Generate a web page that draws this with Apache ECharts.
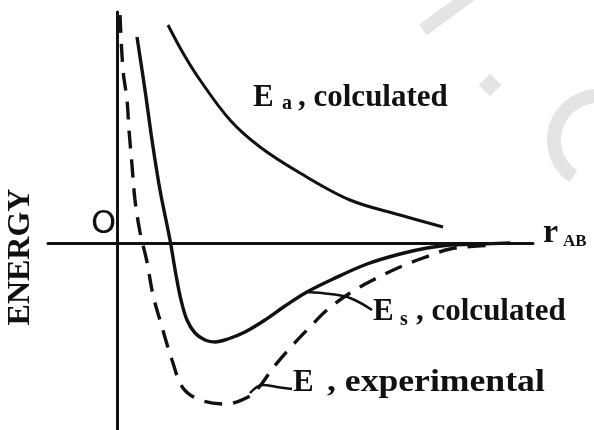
<!DOCTYPE html>
<html>
<head>
<meta charset="utf-8">
<script src="https://cdn.jsdelivr.net/npm/echarts@6/dist/echarts.min.js"></script>
<style>html,body{margin:0;padding:0;background:#fff}#c{width:594px;height:430px}</style>
</head>
<body>
<div id="c"></div>
<script>
// r_AB (arbitrary units) and energy (arbitrary units)
const eaR = [5.1, 6.6, 8.3, 11.3, 14.3, 18.3, 23.3, 28.3, 32.6];
const eaE = [21.8, 19.0, 16.3, 12.3, 9.6, 7.0, 4.3, 2.8, 1.6];

const esR = [2.0, 2.8, 3.5, 4.3, 5.3, 5.9, 6.4, 7.0, 7.8, 8.8, 9.8, 11.1, 12.8, 14.8, 16.8, 19.0, 21.6, 25.0, 28.3, 31.0, 33.3, 36.3, 39.3];
const esE = [20.6, 15.3, 10.3, 5.3, 0.3, -3.2, -5.7, -7.7, -9.0, -9.7, -9.9, -9.6, -8.9, -7.7, -6.3, -4.9, -3.6, -2.1, -1.1, -0.5, -0.2, -0.1, 0.0];

const exR = [0.3, 0.6, 1.0, 1.2, 1.5, 1.8, 2.3, 3.0, 3.6, 4.5, 5.5, 6.6, 8.3, 10.8, 13.3, 14.3, 15.6, 17.3, 19.3, 21.0, 23.3, 25.6, 28.3, 30.6, 33.3, 36.0, 37.8];
const exE = [22.8, 17.3, 14.3, 11.3, 7.8, 4.3, 1.1, -1.9, -5.2, -8.4, -11.7, -14.5, -15.7, -16.1, -15.3, -14.3, -12.5, -10.5, -8.4, -6.7, -5.0, -3.7, -2.4, -1.5, -0.6, -0.3, -0.2];

// leader lines from labels to curves
const esLeadR = [19.0, 21.3, 23.3, 25.5];
const esLeadE = [-4.9, -5.1, -5.5, -6.7];
const exLeadR = [13.3, 14.6, 16.0, 17.5];
const exLeadE = [-15.0, -14.2, -14.4, -14.6];

const zip = (a, b) => a.map((v, i) => [v, b[i]]);
const INK = '#111';
const serifB = (s) => 'bold ' + s + 'px "Liberation Serif", "Times New Roman", serif';

const chart = echarts.init(document.getElementById('c'), null, {renderer: 'canvas'});

function txt(text, x, y, size, extra) {
  return Object.assign({
    type: 'text', x: x, y: y, z: 10,
    style: {text: text, font: serifB(size), fill: INK, textAlign: 'left', textVerticalAlign: 'middle'}
  }, extra || {});
}

chart.setOption({
  animation: false,
  backgroundColor: '#fff',
  grid: {left: 48, right: 61, top: 12, bottom: 0, containLabel: false},
  xAxis: {
    type: 'value', min: -6.9, max: 41.6,
    axisLine: {show: true, onZero: true, lineStyle: {color: INK, width: 3}},
    axisTick: {show: false}, axisLabel: {show: false}, splitLine: {show: false}
  },
  yAxis: {
    type: 'value', min: -18.7, max: 23.1,
    axisLine: {show: true, onZero: true, lineStyle: {color: INK, width: 3}},
    axisTick: {show: false}, axisLabel: {show: false}, splitLine: {show: false}
  },
  series: [
    {type: 'line', name: 'Ea', data: zip(eaR, eaE), smooth: 0.35, showSymbol: false, symbol: 'none',
     lineStyle: {color: INK, width: 3}},
    {type: 'line', name: 'Es', data: zip(esR, esE), smooth: 0.35, showSymbol: false, symbol: 'none',
     lineStyle: {color: INK, width: 3.4}},
    {type: 'line', name: 'Eexp', data: zip(exR, exE), smooth: 0.35, showSymbol: false, symbol: 'none',
     lineStyle: {color: INK, width: 3.4, type: [18, 11]}},
    {type: 'line', name: 'EsLead', data: zip(esLeadR, esLeadE), smooth: 0.4, showSymbol: false, symbol: 'none',
     lineStyle: {color: INK, width: 2.5}},
    {type: 'line', name: 'ExLead', data: zip(exLeadR, exLeadE), smooth: 0.4, showSymbol: false, symbol: 'none',
     lineStyle: {color: INK, width: 2.5}}
  ],
  graphic: [
    // faint watermark shapes
    {type: 'line', z: 0, shape: {x1: 423, y1: 30, x2: 472, y2: -6}, style: {stroke: '#e4e4e4', lineWidth: 13}},
    {type: 'rect', z: 0, x: 490, y: 85, rotation: Math.PI / 4, shape: {x: -8, y: -8, width: 16, height: 16}, style: {fill: '#e4e4e4'}},
    {type: 'arc', z: 0, shape: {cx: 598, cy: 140, r: 44, startAngle: Math.PI * 0.69, endAngle: Math.PI * 1.56, clockwise: true},
     style: {stroke: '#e4e4e4', lineWidth: 14, fill: null}},
    // labels
    txt('ENERGY', 21, 257, 32, {rotation: Math.PI / 2, style: {text: 'ENERGY', font: serifB(32), fill: INK, textAlign: 'center', textVerticalAlign: 'middle'}}),
    {type: 'text', x: 103.5, y: 225, z: 10, style: {text: 'O', font: '32px "DejaVu Sans", sans-serif', fill: INK, textAlign: 'center', textVerticalAlign: 'middle'}},
    txt('E', 253, 97.5, 31),
    txt('a', 282, 104, 20),
    txt(', colculated', 298, 97.5, 31),
    txt('E', 373, 311.5, 31),
    txt('s', 400, 320, 20),
    txt(', colculated', 416, 311.5, 31),
    txt('E', 293, 382.5, 31),
    txt(', experimental', 327, 382.5, 31, {scaleX: 1.15}),
    txt('r', 543, 233.4, 34),
    txt('AB', 563, 242, 17)
  ]
});
</script>
</body>
</html>
